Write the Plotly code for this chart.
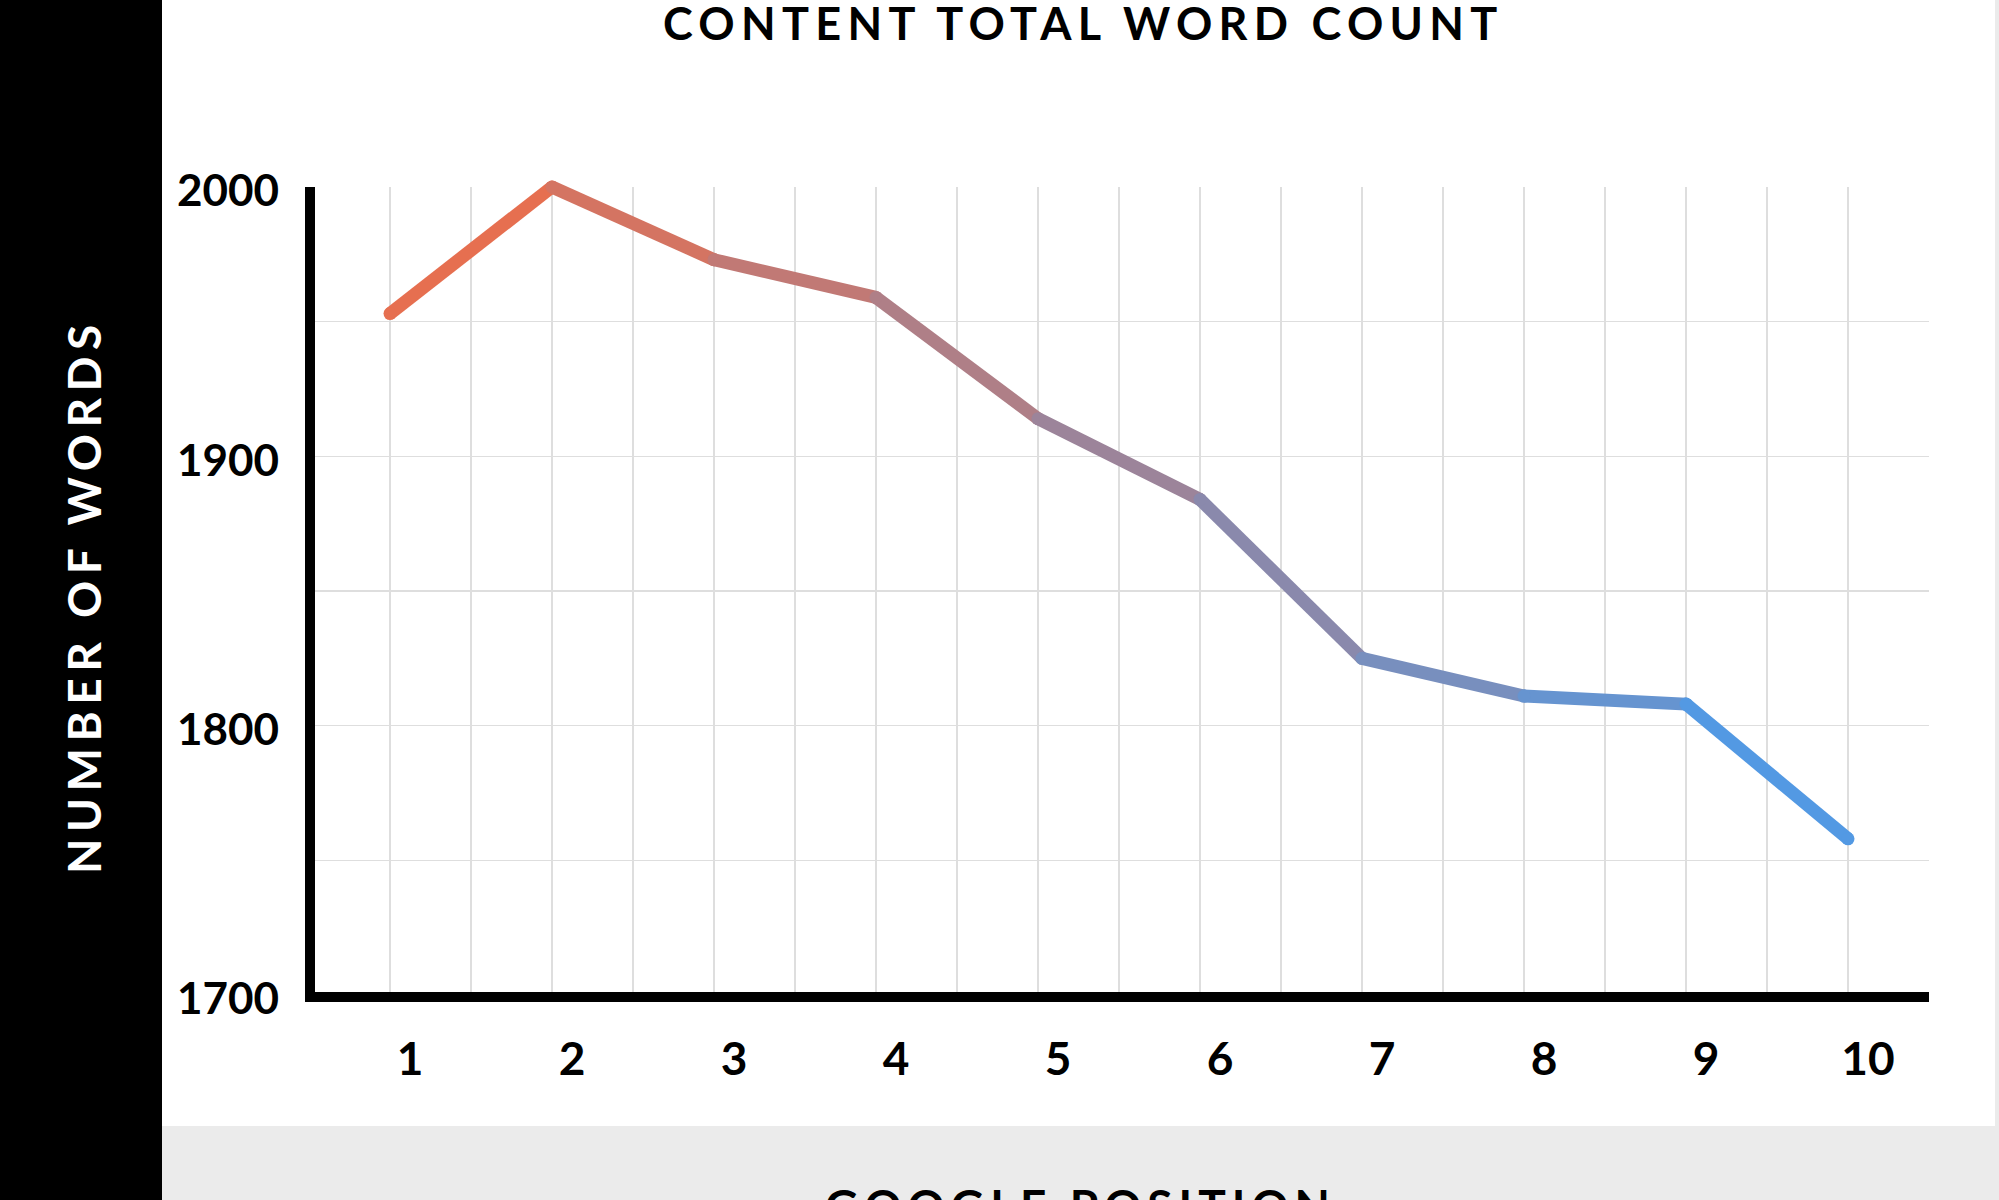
import plotly.graph_objects as go

# ---- data ----
positions = [1, 2, 3, 4, 5, 6, 7, 8, 9, 10]
position_labels = ["1", "2", "3", "4", "5", "6", "7", "8", "9", "10"]
word_counts = [1953, 2000, 1973, 1959, 1914, 1884, 1825, 1811, 1808, 1758]
y_tick_values = [1700, 1800, 1900, 2000]
y_tick_labels = ["1700", "1800", "1900", "2000"]

title_text = "CONTENT TOTAL WORD COUNT"
y_title_text = "NUMBER OF WORDS"
x_title_text = "GOOGLE POSITION"

# ---- layout geometry (pixels) ----
W, H = 1999, 1200
Y_LO, Y_HI = 1700, 2000
PIX_LO, PIX_HI = 995, 187          # pixel rows of Y_LO and Y_HI
PX_PER_UNIT = (PIX_LO - PIX_HI) / (Y_HI - Y_LO)
L, R, T, B = 309, 70, 176, 205      # headroom above 2000 for the data subplot only
Y_TOP = Y_HI + (PIX_HI - T) / PX_PER_UNIT
PW, PH = W - L - R, H - T - B
GRID_DOMAIN_TOP = (PIX_LO - PIX_HI) / (PIX_LO - T)

def px_x(p):
    return (p - L) / PW

def px_y(p):
    return (H - B - p) / PH

FONT = "Lato"
start_rgb = (239, 108, 71)
end_rgb = (74, 156, 236)

def grad(t):
    c = [round(s + (e - s) * t) for s, e in zip(start_rgb, end_rgb)]
    return f"rgb({c[0]},{c[1]},{c[2]})"

fig = go.Figure()
# invisible trace on the grid subplot (x, y) so its axes and gridlines are drawn
fig.add_trace(go.Scatter(
    x=positions, y=word_counts, xaxis="x", yaxis="y",
    mode="lines", line=dict(color="rgba(0,0,0,0)", width=0),
    showlegend=False, hoverinfo="skip",
))
n = len(positions)
for i in range(n - 1):
    t = (i + 0.5) / (n - 1)
    col = grad(t)
    fig.add_trace(go.Scatter(
        x=positions[i:i + 2], y=word_counts[i:i + 2],
        xaxis="x2", yaxis="y2",
        mode="lines+markers",
        line=dict(color=col, width=13),
        marker=dict(color=col, size=13, line=dict(width=0)),
        cliponaxis=False,
        showlegend=False, hoverinfo="skip",
    ))

shapes = [
    dict(type="rect", xref="paper", yref="paper", layer="below",
         x0=px_x(162), x1=px_x(1995), y0=px_y(1126), y1=px_y(0),
         fillcolor="white", line=dict(width=0)),
    dict(type="rect", xref="paper", yref="paper", layer="below",
         x0=px_x(0), x1=px_x(162), y0=px_y(1200), y1=px_y(0),
         fillcolor="black", line=dict(width=0)),
    # axis lines
    dict(type="line", xref="paper", yref="paper", x0=px_x(310), x1=px_x(310),
         y0=px_y(1002), y1=px_y(PIX_HI), line=dict(color="black", width=10), layer="above"),
    dict(type="line", xref="paper", yref="paper", x0=px_x(305), x1=px_x(1929),
         y0=px_y(997), y1=px_y(997), line=dict(color="black", width=10), layer="above"),
]

annotations = [
    dict(text=f"<span style='letter-spacing:6.3px'>{title_text}</span>",
         xref="paper", yref="paper", x=px_x(1083), y=px_y(23),
         xanchor="center", yanchor="middle", showarrow=False,
         font=dict(family=FONT, size=45, color="black", weight=700)),
    dict(text=f"<span style='letter-spacing:6.5px'>{y_title_text}</span>",
         xref="paper", yref="paper", x=px_x(83), y=px_y(596),
         xanchor="center", yanchor="middle", textangle=-90, showarrow=False,
         font=dict(family=FONT, size=46, color="white", weight=700)),
    dict(text=f"<span style='letter-spacing:6px'>{x_title_text}</span>",
         xref="paper", yref="paper", x=px_x(1080), y=px_y(1176),
         xanchor="center", yanchor="top", showarrow=False,
         font=dict(family=FONT, size=46, color="black", weight=700)),
]

grid_col = "#DEDEDE"
fig.update_layout(
    width=W, height=H,
    margin=dict(l=L, r=R, t=T, b=B, pad=0),
    paper_bgcolor="#EBEBEB",
    plot_bgcolor="rgba(0,0,0,0)",
    shapes=shapes,
    annotations=annotations,
    xaxis=dict(
        domain=[0, 1], anchor="y",
        range=[0.5, 10.5], tickvals=positions, ticktext=position_labels,
        showgrid=True, gridcolor=grid_col, gridwidth=1.5,
        minor=dict(dtick=0.5, tick0=0.5, showgrid=True, gridcolor=grid_col, gridwidth=1.5),
        zeroline=False, showline=False, ticks="",
        tickfont=dict(family=FONT, size=46, color="black", weight=700),
        ticklabelshift=20, ticklabelstandoff=33,
        fixedrange=True,
    ),
    yaxis=dict(
        domain=[0, GRID_DOMAIN_TOP], anchor="x",
        range=[Y_LO, Y_HI], tickvals=y_tick_values, ticktext=y_tick_labels,
        showgrid=True, gridcolor=grid_col, gridwidth=1.5,
        minor=dict(dtick=50, tick0=1700, showgrid=True, gridcolor=grid_col, gridwidth=1.5),
        zeroline=False, showline=False, ticks="",
        tickfont=dict(family=FONT, size=44, color="black", weight=700),
        ticklabelstandoff=29, ticklabelshift=4,
        fixedrange=True,
    ),
    xaxis2=dict(domain=[0, 1], anchor="y2", range=[0.5, 10.5],
                visible=False, showgrid=False, zeroline=False, fixedrange=True),
    yaxis2=dict(domain=[0, 1], anchor="x2", range=[Y_LO, Y_TOP],
                visible=False, showgrid=False, zeroline=False, fixedrange=True),
)

fig.write_html(
    "out.html",
    config={"displayModeBar": False, "staticPlot": True},
    post_script="document.body.style.margin='0px';document.documentElement.style.overflow='hidden';",
)
